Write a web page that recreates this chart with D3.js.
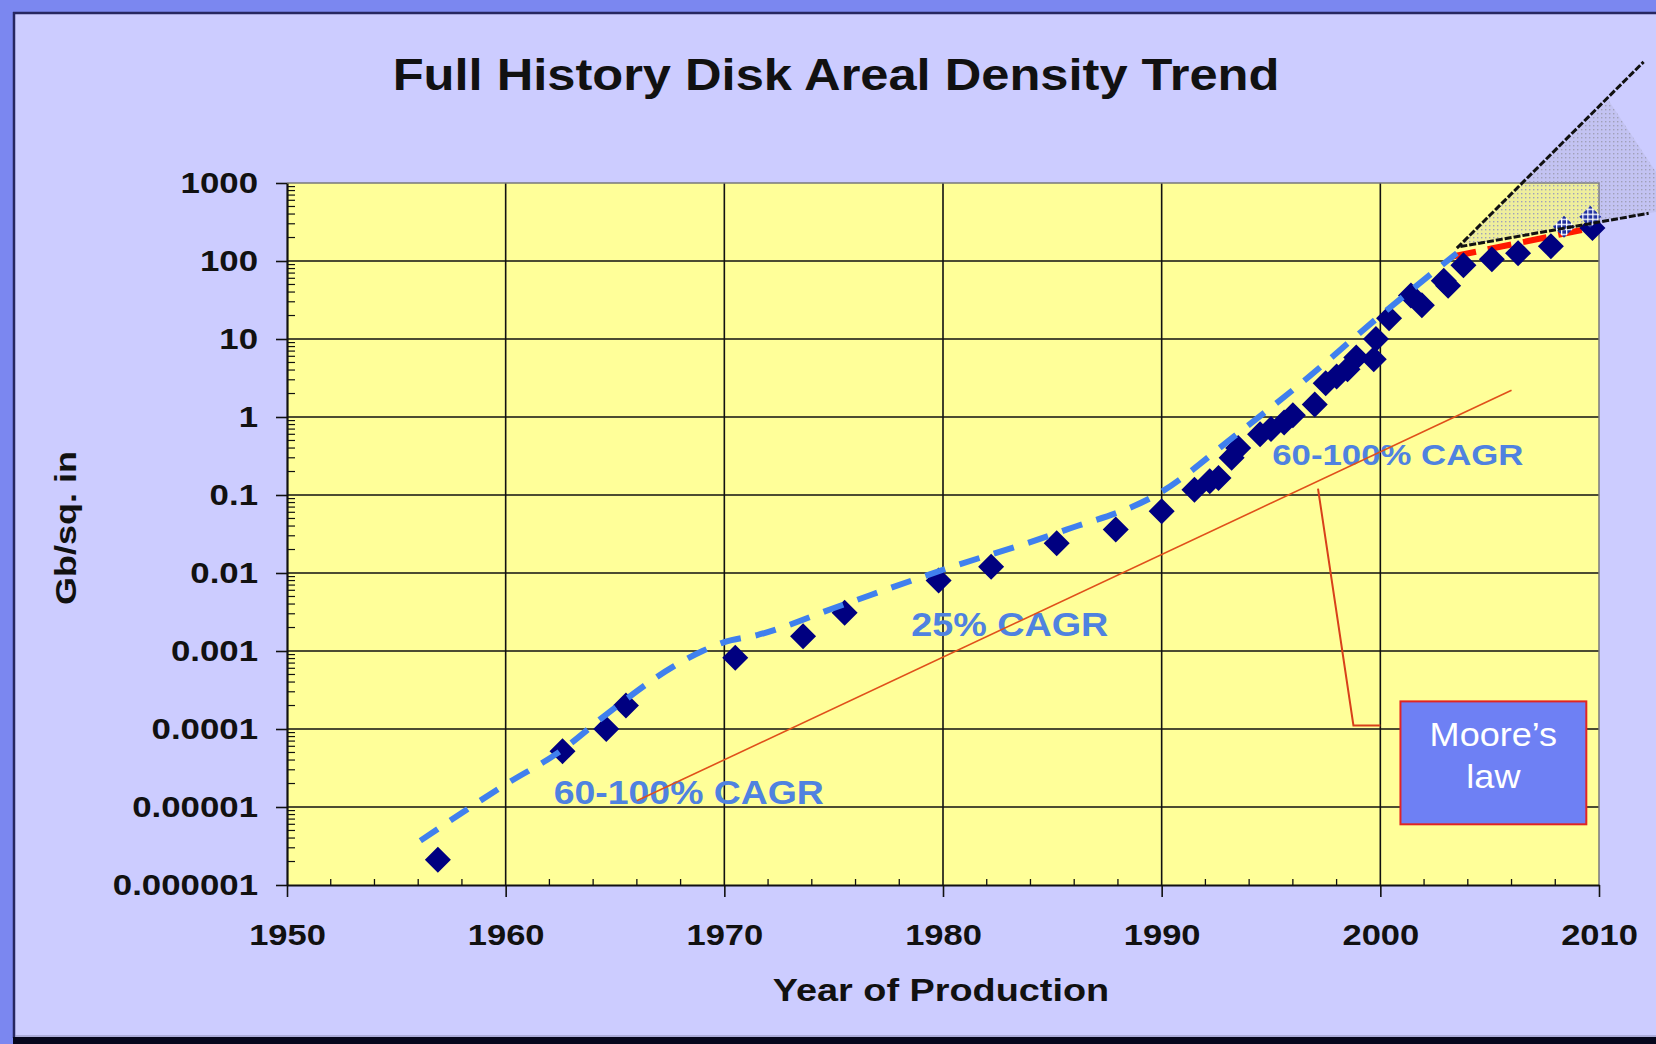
<!DOCTYPE html>
<html>
<head>
<meta charset="utf-8">
<script src="https://cdn.jsdelivr.net/npm/d3@7"></script>
<style>
  html, body { margin: 0; padding: 0; background: #CCCCFF; }
  svg { display: block; }
  text { font-family: "Liberation Sans", Arial, Helvetica, sans-serif; }
</style>
</head>
<body>
<svg id="chart" width="1656" height="1044"></svg>
<script>
// Areal density of shipped disk drives (Gb per square inch) by year of production
const productYears = [1956.9, 1962.6, 1964.6, 1965.5, 1970.5, 1973.6, 1975.5, 1979.8, 1982.2, 1985.2,
  1987.9, 1990.0, 1991.5, 1992.2, 1992.6, 1993.2, 1993.5, 1994.5, 1995.0, 1995.6,
  1996.0, 1997.0, 1997.5, 1998.0, 1998.5, 1998.9, 1999.7, 1999.8, 2000.4, 2001.4,
  2001.9, 2002.9, 2003.1, 2003.8, 2005.1, 2006.3, 2007.8, 2009.7];
const productDensity = [2.1e-6, 5.2e-5, 1.0e-4, 2.0e-4, 8.2e-4, 1.55e-3, 3.1e-3, 8.0e-3, 1.2e-2, 2.4e-2,
  3.6e-2, 0.062, 0.117, 0.15, 0.165, 0.30, 0.40, 0.60, 0.70, 0.85,
  1.05, 1.45, 2.7, 3.3, 4.1, 5.8, 5.5, 10, 18.5, 36,
  27, 56, 48, 88, 105, 126, 155, 265];

// Projected products near the end of the decade
const projectedYears = [2008.4, 2009.6];
const projectedDensity = [275, 370];

// Historical growth trend (dashed blue)
const trendYears = [1956.1, 1960, 1962.5, 1964.8, 1967.7, 1969, 1970, 1971.5, 1975.3, 1980, 1985.4,
  1990, 1993.3, 1996.3, 2000, 2003.5];
const trendDensity = [3.7e-6, 1.95e-5, 5.2e-5, 1.7e-4, 6.4e-4, 1.0e-3, 1.3e-3, 1.6e-3, 3.8e-3, 1.1e-2, 3.4e-2,
  0.11, 0.56, 2.6, 20, 126];

// Slower recent trend (dashed red)
const recentYears = [2003.3, 2009.6];
const recentDensity = [114, 263];

// Projection cone beyond 2003
const coneUpperYears = [2003.5, 2012.04];
const coneUpperDensity = [146, 35700];
const coneLowerYears = [2003.66, 2012.27];
const coneLowerDensity = [153, 409];
const coneShadeYears = [2003.5, 2010.43, 2013.68, 2012.27, 2003.66];
const coneShadeDensity = [146, 11560, 485, 409, 153];

// Moore's law reference line and its callout
const mooreYears = [1966, 2006];
const mooreDensity = [1.2e-5, 2.2];
const calloutYears = [1997.15, 1998.77, 2000.0];
const calloutDensity = [0.121, 1.11e-4, 1.11e-4];
const mooreBoxYears = [2000.92, 2009.42];
const mooreBoxDensity = [2.26e-4, 6.0e-6];
const mooreBoxLines = ["Moore\u2019s", "law"];

// Growth-rate annotations: [text, year, density]
const cagrLabels = [
  ["60-100% CAGR", 1962.2, 1.1e-5],
  ["25% CAGR", 1978.55, 1.55e-3],
  ["60-100% CAGR", 1995.06, 0.245]
];

// Axes
const xTicks = [1950, 1960, 1970, 1980, 1990, 2000, 2010];
const yTicks = [1e-6, 1e-5, 1e-4, 1e-3, 1e-2, 0.1, 1, 10, 100, 1000];
const yTickLabels = ["0.000001", "0.00001", "0.0001", "0.001", "0.01", "0.1", "1", "10", "100", "1000"];

const titleText = "Full History Disk Areal Density Trend";
const xTitle = "Year of Production";
const yTitle = "Gb/sq. in";

// ---------------------------------------------------------------
const W = 1656, H = 1044;
const svg = d3.select("#chart");
const plotL = 287, plotR = 1599, plotT = 183, plotB = 885;

const x = d3.scaleLinear().domain([1950, 2010]).range([plotL, plotR]);
const y = d3.scaleLog().domain([1e-6, 1000]).range([plotB, plotT]);

// the slide typography is set wide: stretch glyphs horizontally by k
function widen(sel, k) {
  sel.each(function () {
    const w = this.getComputedTextLength();
    d3.select(this).attr("textLength", w * k).attr("lengthAdjust", "spacingAndGlyphs");
  });
  return sel;
}

const defs = svg.append("defs");

// dotted shading for the projection cone
const dots = defs.append("pattern").attr("id", "coneDots")
  .attr("patternUnits", "userSpaceOnUse").attr("width", 4).attr("height", 4);
dots.append("rect").attr("width", 4).attr("height", 4).attr("fill", "rgba(150,150,175,0.16)");
dots.append("rect").attr("x", 1).attr("y", 1).attr("width", 1.4).attr("height", 1.4).attr("fill", "#a0a0b8");

// plaid fill for the projected products
const plaid = defs.append("pattern").attr("id", "plaid")
  .attr("patternUnits", "userSpaceOnUse").attr("width", 5).attr("height", 5);
plaid.append("rect").attr("width", 5).attr("height", 5).attr("fill", "#1f2fa0");
plaid.append("rect").attr("x", 0).attr("y", 2).attr("width", 5).attr("height", 1.3).attr("fill", "#ffffff");
plaid.append("rect").attr("x", 2).attr("y", 0).attr("width", 1.3).attr("height", 5).attr("fill", "#ffffff");

// ---- slide frame ----
svg.append("rect").attr("width", W).attr("height", H).attr("fill", "#CCCCFF");
svg.append("rect").attr("x", 0).attr("y", 0).attr("width", W).attr("height", 12).attr("fill", "#7B87F0");
svg.append("rect").attr("x", 0).attr("y", 0).attr("width", 13).attr("height", H).attr("fill", "#7B87F0");
svg.append("line").attr("x1", 13).attr("x2", W).attr("y1", 13).attr("y2", 13)
  .attr("stroke", "#262660").attr("stroke-width", 2.5);
svg.append("line").attr("x1", 14).attr("x2", 14).attr("y1", 12).attr("y2", 1038)
  .attr("stroke", "#262660").attr("stroke-width", 2.5);
svg.append("rect").attr("x", 13).attr("y", 1037).attr("width", W - 13).attr("height", 7).attr("fill", "#06061c");
svg.append("line").attr("x1", 15).attr("x2", W).attr("y1", 1036).attr("y2", 1036)
  .attr("stroke", "#8c8cb4").attr("stroke-width", 1);

// ---- title ----
widen(svg.append("text").attr("x", 836).attr("y", 90).attr("text-anchor", "middle")
  .attr("font-size", 44).attr("font-weight", "bold")
  .attr("fill", "#111").text(titleText), 1.15);

// ---- plot area ----
svg.append("rect").attr("x", plotL).attr("y", plotT).attr("width", plotR - plotL).attr("height", plotB - plotT)
  .attr("fill", "#FFFF99");

const grid = svg.append("g");
grid.selectAll("line.gx").data(xTicks.slice(1, -1)).join("line")
  .attr("x1", d => x(d)).attr("x2", d => x(d)).attr("y1", plotT).attr("y2", plotB)
  .attr("stroke", "#111").attr("stroke-width", 1.6);
grid.selectAll("line.gy").data(yTicks.slice(1, -1)).join("line")
  .attr("x1", plotL).attr("x2", plotR).attr("y1", d => y(d)).attr("y2", d => y(d))
  .attr("stroke", "#111").attr("stroke-width", 1.6);
// top and right plot border
svg.append("path").attr("d", `M${plotL},${plotT}H${plotR}V${plotB}`)
  .attr("fill", "none").attr("stroke", "#7a7a7a").attr("stroke-width", 1.5);

// minor ticks
const minorY = [];
yTicks.slice(0, -1).forEach(d => { for (let k = 2; k <= 9; k++) minorY.push(d * k); });
svg.append("g").selectAll("line").data(minorY).join("line")
  .attr("x1", plotL).attr("x2", plotL + 8).attr("y1", d => y(d)).attr("y2", d => y(d))
  .attr("stroke", "#111").attr("stroke-width", 1.2);
const minorX = d3.range(1952, 2010, 2).filter(v => v % 10 !== 0);
svg.append("g").selectAll("line").data(minorX).join("line")
  .attr("x1", d => x(d)).attr("x2", d => x(d)).attr("y1", plotB).attr("y2", plotB - 6)
  .attr("stroke", "#111").attr("stroke-width", 1.3);

// ---- axes ----
const yAxis = d3.axisLeft(y).tickValues(yTicks)
  .tickFormat((d, i) => yTickLabels[i]).tickSize(11).tickSizeOuter(0).tickPadding(18);
const gy = svg.append("g").attr("transform", `translate(${plotL},0)`).call(yAxis);
gy.select(".domain").attr("stroke", "#111").attr("stroke-width", 2.2);
gy.selectAll(".tick line").attr("stroke", "#111").attr("stroke-width", 1.6);
widen(gy.selectAll(".tick text").attr("font-size", 30).attr("font-weight", "bold")
  .attr("fill", "#111").attr("font-family", "Liberation Sans, Arial, sans-serif"), 1.16);

const xAxis = d3.axisBottom(x).tickValues(xTicks).tickFormat(d3.format("d"))
  .tickSize(12).tickSizeOuter(0).tickPadding(27);
const gx = svg.append("g").attr("transform", `translate(0,${plotB})`).call(xAxis);
gx.select(".domain").attr("stroke", "#111").attr("stroke-width", 2.2);
gx.selectAll(".tick line").attr("stroke", "#111").attr("stroke-width", 1.6);
widen(gx.selectAll(".tick text").attr("font-size", 30).attr("font-weight", "bold")
  .attr("fill", "#111").attr("font-family", "Liberation Sans, Arial, sans-serif"), 1.15);

// axis titles
widen(svg.append("text").attr("x", 941).attr("y", 1001).attr("text-anchor", "middle")
  .attr("font-size", 31).attr("font-weight", "bold")
  .attr("fill", "#111").text(xTitle), 1.22);
widen(svg.append("text").attr("transform", "translate(76,528) rotate(-90)").attr("text-anchor", "middle")
  .attr("font-size", 29).attr("font-weight", "bold")
  .attr("fill", "#111").text(yTitle), 1.24);

// ---- growth annotations ----
const cagr = svg.append("g").selectAll("text").data(cagrLabels).join("text")
  .attr("x", d => x(d[1])).attr("y", d => y(d[2]))
  .attr("font-size", (d, i) => [33, 34, 30][i])
  .attr("font-weight", "bold").attr("fill", "#4F82E0").text(d => d[0]);
cagr.each(function (d, i) {
  widen(d3.select(this), [270 / 238.4, 197 / 177.6, 251 / 216.7][i]);
});

// ---- projection cone ----
const line = d3.line().x(d => x(d[0])).y(d => y(d[1]));
const zip = (a, b) => a.map((v, i) => [v, b[i]]);

svg.append("path").datum(zip(coneShadeYears, coneShadeDensity))
  .attr("d", d3.line().x(d => x(d[0])).y(d => y(d[1])).curve(d3.curveLinearClosed))
  .attr("fill", "url(#coneDots)");

// ---- Moore's law line and callout ----
svg.append("path").datum(zip(mooreYears, mooreDensity)).attr("d", line)
  .attr("fill", "none").attr("stroke", "#E0501A").attr("stroke-width", 1.6);
svg.append("path").datum(zip(calloutYears, calloutDensity)).attr("d", line)
  .attr("fill", "none").attr("stroke", "#D8401A").attr("stroke-width", 2);

// ---- product data ----
const diamond = {
  draw(ctx, size) {
    const r = Math.sqrt(size) / 2;
    ctx.moveTo(0, -r); ctx.lineTo(r, 0); ctx.lineTo(0, r); ctx.lineTo(-r, 0); ctx.closePath();
  }
};
svg.append("path").datum(zip(recentYears, recentDensity)).attr("d", line)
  .attr("fill", "none").attr("stroke", "#FF1A00").attr("stroke-width", 6)
  .attr("stroke-dasharray", "24 12");

svg.append("g").selectAll("path").data(zip(productYears, productDensity)).join("path")
  .attr("transform", d => `translate(${x(d[0])},${y(d[1])})`)
  .attr("d", d3.symbol().type(diamond).size(26 * 26))
  .attr("fill", "#000080");

svg.append("g").selectAll("path").data(zip(projectedYears, projectedDensity)).join("path")
  .attr("transform", d => `translate(${x(d[0])},${y(d[1])})`)
  .attr("d", d3.symbol().type(diamond).size(22 * 22))
  .attr("fill", "url(#plaid)");

// historical trend drawn over the markers
svg.append("path").datum(zip(trendYears, trendDensity))
  .attr("d", d3.line().x(d => x(d[0])).y(d => y(d[1])).curve(d3.curveMonotoneX))
  .attr("fill", "none").attr("stroke", "#4080EE").attr("stroke-width", 6)
  .attr("stroke-dasharray", "21 15");

// cone edges
[[coneUpperYears, coneUpperDensity], [coneLowerYears, coneLowerDensity]].forEach(([a, b]) => {
  svg.append("path").datum(zip(a, b)).attr("d", line)
    .attr("fill", "none").attr("stroke", "#111").attr("stroke-width", 3)
    .attr("stroke-dasharray", "7 2");
});

// Moore's law box
const bx0 = x(mooreBoxYears[0]), bx1 = x(mooreBoxYears[1]);
const by0 = y(mooreBoxDensity[0]), by1 = y(mooreBoxDensity[1]);
svg.append("rect").attr("x", bx0).attr("y", by0).attr("width", bx1 - bx0).attr("height", by1 - by0)
  .attr("fill", "#6E80F4").attr("stroke", "#E02424").attr("stroke-width", 2);
widen(svg.append("g").selectAll("text").data(mooreBoxLines).join("text")
  .attr("x", (bx0 + bx1) / 2).attr("y", (d, i) => by0 + 45 + i * 42)
  .attr("text-anchor", "middle").attr("font-size", 34)
  .attr("fill", "#ffffff").text(d => d), 1.06);
</script>
</body>
</html>
